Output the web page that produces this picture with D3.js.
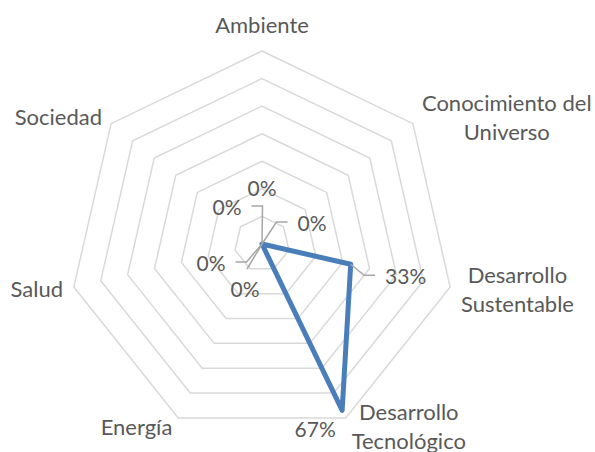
<!DOCTYPE html>
<html>
<head>
<meta charset="utf-8">
<script src="https://cdn.jsdelivr.net/npm/d3@7"></script>
<style>
	body { margin: 0; background: #fff; }
	text { font-family: Lato, "Open Sans", sans-serif; fill: #595959; }
</style>
</head>
<body>
<svg id="chart" width="595" height="452"></svg>
<script>
// radar chart data
var categories = ["Ambiente", "Conocimiento del Universo", "Desarrollo Sustentable",
	"Desarrollo Tecnológico", "Energía", "Salud", "Sociedad"];
var values = [0, 0, 0.33, 0.67, 0, 0, 0];
var ringTicks = [0.1, 0.2, 0.3, 0.4, 0.5, 0.6, 0.7];

var width = 595,
	height = 452,
	cx = 262,
	cy = 244,
	radius = 193;

var svg = d3.select("#chart");

var r = d3.scaleLinear()
	.domain([0, 0.7])
	.range([0, radius]);

var step = 2 * Math.PI / categories.length;

function pt(i, v) {
	var a = i * step;
	return [cx + r(v) * Math.sin(a), cy - r(v) * Math.cos(a)];
}

var ringLine = d3.line().curve(d3.curveLinearClosed);

// gridline rings
svg.append("g")
	.selectAll("path")
	.data(ringTicks)
	.enter()
	.append("path")
	.attr("d", function(t) {
		return ringLine(categories.map(function(c, i) { return pt(i, t); }));
	})
	.style("fill", "none")
	.style("stroke", "#d9d9d9")
	.style("stroke-width", 1.5);

// category labels
var catFont = 22,
	catLineH = 29;

function wrap(label) {
	// excel-like wrapping: break before the last word when it is long
	var words = label.split(" ");
	if (words.length < 2 || label.length < 14) return [label];
	if (words.length == 3) return [words[0] + " " + words[1], words[2]];
	return [words[0], words.slice(1).join(" ")];
}

var catG = svg.append("g");

categories.forEach(function(c, i) {
	var v = pt(i, 0.7),
		s = Math.sin(i * step),
		co = Math.cos(i * step),
		lines = wrap(c);

	var g = catG.append("g");
	var texts = g.selectAll("text")
		.data(lines)
		.enter()
		.append("text")
		.style("font-size", catFont + "px")
		.attr("text-anchor", "middle")
		.text(function(d) { return d; });

	var w = 0;
	texts.each(function() { w = Math.max(w, this.getComputedTextLength()); });

	var gap = 2 + 9 * Math.abs(s);
	var midX;
	if (s > 0.1) midX = v[0] + gap + w / 2;
	else if (s < -0.1) midX = v[0] - gap - w / 2;
	else midX = v[0];

	var midY = v[1] - 10 * co - (Math.abs(s) < 0.1 ? 16 : 0);
	var top = midY - (lines.length - 1) * catLineH / 2;

	texts.attr("x", midX)
		.attr("y", function(d, j) { return top + j * catLineH + catFont * 0.36; });
});

// series line
svg.append("path")
	.attr("d", ringLine(values.map(function(v, i) { return pt(i, v); })))
	.style("fill", "none")
	.style("stroke", "#4a7ebb")
	.style("stroke-width", 5)
	.style("stroke-linejoin", "round");

// data labels, offsets from their point, with leader lines
var labelLayout = [
	{ dx: 0, dy: -56, leader: null },
	{ dx: 50, dy: -21, leader: "h" },
	{ dx: 55, dy: 12, leader: "h" },
	{ dx: -27, dy: 19, leader: null },
	{ dx: -17, dy: 45, leader: "v" },
	{ dx: -51, dy: 19, leader: "h" },
	{ dx: -35, dy: -37, leader: "h" }
];

var dataFont = 21;
var fmt = d3.format(".0%");
var leaderG = svg.append("g");
var labelG = svg.append("g");

values.forEach(function(v, i) {
	var p = pt(i, v),
		lay = labelLayout[i],
		lx = p[0] + lay.dx,
		ly = p[1] + lay.dy;

	var t = labelG.append("text")
		.attr("x", lx)
		.attr("y", ly + dataFont * 0.36)
		.attr("text-anchor", "middle")
		.style("font-size", dataFont + "px")
		.text(fmt(v));

	var w = t.node().getComputedTextLength();
	var pts = null;

	if (lay.leader == "h") {
		var side = lay.dx > 0 ? -1 : 1;
		var endX = lx + side * (w / 2 + 10),
			endY = ly - 1;
		pts = [p, [endX + side * 11, endY], [endX, endY]];
	} else if (lay.leader == "v") {
		pts = [p, [lx + 2, ly - 20]];
	}

	if (pts) {
		leaderG.append("path")
			.attr("d", d3.line()(pts))
			.style("fill", "none")
			.style("stroke", "#a6a6a6")
			.style("stroke-width", 1.5);
	}
});
</script>
</body>
</html>
